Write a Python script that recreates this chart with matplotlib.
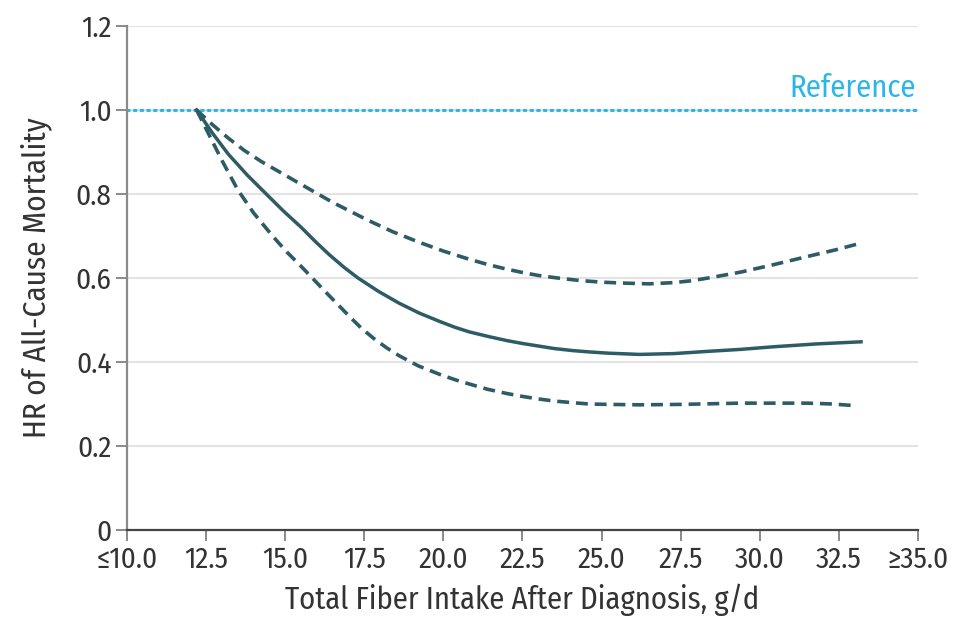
import numpy as np
import matplotlib
matplotlib.use("Agg")
import matplotlib.pyplot as plt

plt.rcParams['font.family'] = ['Fira Sans Condensed', 'DejaVu Sans']

# fiber intake (g/d) and hazard ratio
hr_x = [12.2, 12.7, 13.2, 13.8, 14.4, 14.95, 15.5, 15.95, 16.4, 16.85, 17.3, 17.95, 18.6,
        19.25, 19.9, 20.35, 20.8, 21.4, 22.0, 22.5, 23.0, 23.5, 24.1, 24.6, 25.2, 26.2,
        27.3, 28.3, 29.4, 30.4, 31.8, 33.2]
hr_y = [1.0, 0.945, 0.895, 0.845, 0.80, 0.759, 0.721, 0.687, 0.655, 0.626, 0.60, 0.568, 0.54,
        0.516, 0.496, 0.483, 0.472, 0.461, 0.451, 0.444, 0.438, 0.432, 0.427, 0.424, 0.421, 0.418,
        0.420, 0.425, 0.430, 0.436, 0.443, 0.448]

upper_x = [12.2, 12.7, 13.2, 13.7, 14.25, 14.9, 15.5, 16.5, 17.6, 18.4, 19.2, 20.0, 20.8,
           21.4, 22.0, 22.5, 23.0, 23.6, 24.3, 25.0, 25.6, 26.5, 27.3, 27.8, 28.3, 28.9,
           29.4, 30.4, 31.5, 32.4, 33.2]
upper_y = [1.0, 0.965, 0.933, 0.904, 0.877, 0.849, 0.823, 0.78, 0.738, 0.71, 0.686, 0.664, 0.645,
           0.632, 0.621, 0.613, 0.606, 0.600, 0.594, 0.590, 0.588, 0.586, 0.589, 0.593, 0.599, 0.607,
           0.614, 0.631, 0.651, 0.667, 0.683]

lower_x = [12.2, 12.6, 13.0, 13.5, 14.0, 14.6, 15.05, 15.5, 16.3, 16.7, 17.05, 17.4, 17.8,
           18.2, 18.6, 19.2, 19.9, 20.4, 20.8, 21.4, 22.0, 22.5, 23.0, 23.5, 24.1, 24.6,
           25.2, 26.2, 27.5, 29.4, 31.5, 32.3, 33.0]
lower_y = [1.0, 0.94, 0.88, 0.81, 0.755, 0.70, 0.662, 0.628, 0.565, 0.534, 0.507, 0.481, 0.456,
           0.434, 0.415, 0.391, 0.37, 0.357, 0.348, 0.335, 0.325, 0.318, 0.312, 0.307, 0.303, 0.300,
           0.299, 0.298, 0.299, 0.302, 0.302, 0.300, 0.296]

x_ticks = [10.0, 12.5, 15.0, 17.5, 20.0, 22.5, 25.0, 27.5, 30.0, 32.5, 35.0]
x_labels = ['≤10.0', '12.5', '15.0', '17.5', '20.0', '22.5', '25.0', '27.5', '30.0', '32.5', '≥35.0']
y_ticks = [0, 0.2, 0.4, 0.6, 0.8, 1.0, 1.2]
y_labels = ['0', '0.2', '0.4', '0.6', '0.8', '1.0', '1.2']

teal = '#2d5b66'
blue = '#2bb5e8'
text_col = '#333333'
axis_col = '#8a8a8a'

fig = plt.figure(figsize=(9.59, 6.17), dpi=100)
ax = fig.add_axes([0.1324, 0.141, 0.9572 - 0.1324, 0.958 - 0.141])

for yv in y_ticks[1:]:
    ax.axhline(yv, color='#e3e3e3', lw=1.5, zorder=1)

ax.plot([10, 35], [1.0, 1.0], color=blue, lw=2.2, ls=(0, (0.6, 1.6)),
        dash_capstyle='round', zorder=2)
ax.text(34.95, 1.015, 'Reference', color=blue, fontsize=22, ha='right', va='bottom')

ax.plot(upper_x, upper_y, color=teal, lw=2.6, ls=(0, (3.3, 1.9)), zorder=3,
        dash_joinstyle='round')
ax.plot(lower_x, lower_y, color=teal, lw=2.6, ls=(0, (3.3, 1.9)), zorder=3,
        dash_joinstyle='round')
ax.plot(hr_x, hr_y, color=teal, lw=2.5, zorder=4, solid_joinstyle='round')

ax.set_xlim(10, 35)
ax.set_ylim(0, 1.2)
ax.set_xticks(x_ticks)
ax.set_xticklabels(x_labels)
ax.set_yticks(y_ticks)
ax.set_yticklabels(y_labels)

for side in ['top', 'right']:
    ax.spines[side].set_visible(False)
for side in ['left', 'bottom']:
    ax.spines[side].set_color(axis_col)
    ax.spines[side].set_linewidth(1.6)
ax.spines['bottom'].set_color('#444444')
ax.tick_params(axis='both', colors=axis_col, length=8, width=1.4, labelsize=21,
               labelcolor=text_col, pad=3)

ax.set_xlabel('Total Fiber Intake After Diagnosis, g/d', fontsize=22, color=text_col, labelpad=7)
ax.set_ylabel('HR of All-Cause Mortality', fontsize=22.5, color=text_col, labelpad=17)

fig.savefig('out.png', dpi=100)
plt.close(fig)
